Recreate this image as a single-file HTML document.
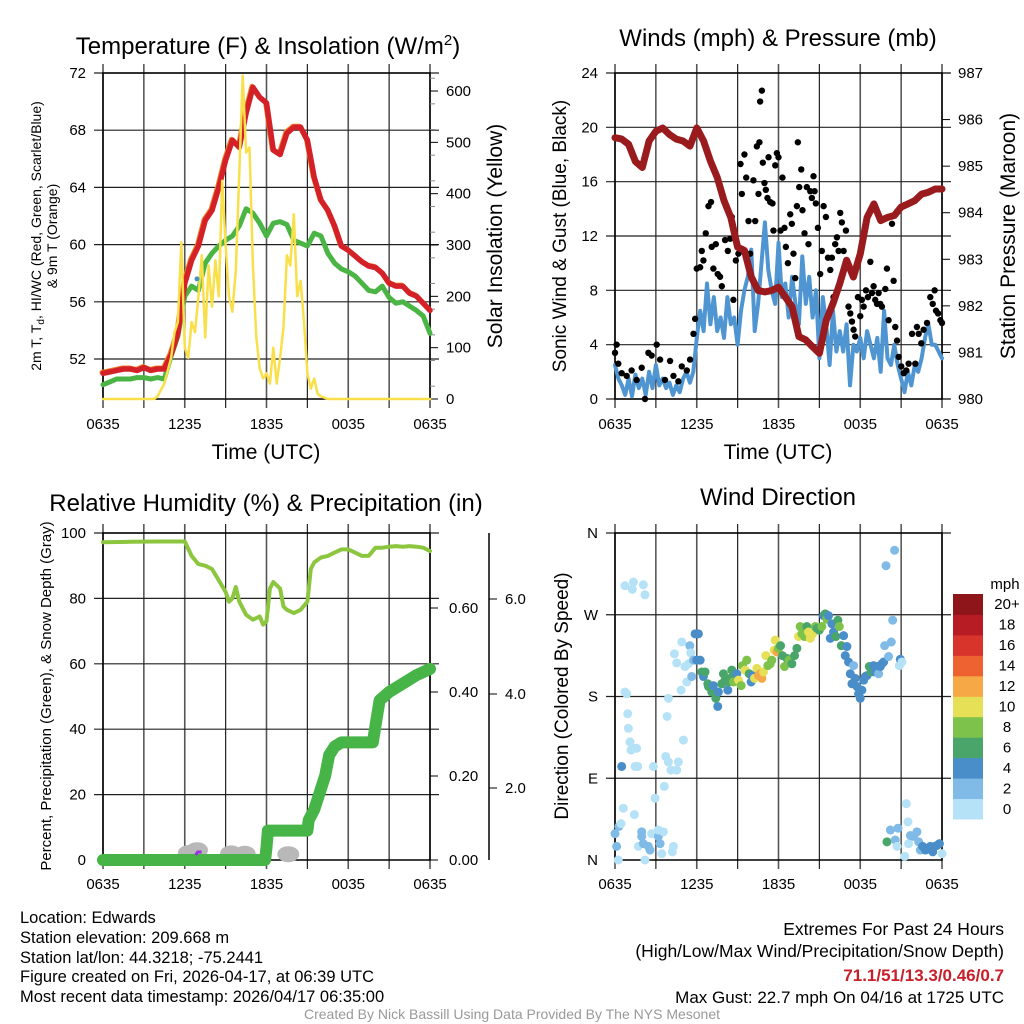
<!DOCTYPE html>
<html><head><meta charset="utf-8"><style>
html,body{margin:0;padding:0;background:#fff}
svg{display:block;font-family:"Liberation Sans",sans-serif}
</style></head><body>
<svg id="chart" width="1024" height="1024" viewBox="0 0 1024 1024" xmlns="http://www.w3.org/2000/svg">
<g>
<text x="268" y="54" font-size="24" text-anchor="middle">Temperature (F) &amp; Insolation (W/m<tspan dy="-9" font-size="15">2</tspan><tspan dy="9">)</tspan></text>
<text transform="translate(41,236) rotate(-90)" font-size="14" text-anchor="middle">2m T, T<tspan dy="3" font-size="10">d</tspan><tspan dy="-3">, HI/WC (Red, Green, Scarlet/Blue)</tspan></text>
<text transform="translate(57,236) rotate(-90)" font-size="14" text-anchor="middle">&amp; 9m T (Orange)</text>
<text transform="translate(502,236) rotate(-90)" font-size="21" text-anchor="middle">Solar Insolation (Yellow)</text>
<text x="266" y="459" font-size="21" text-anchor="middle">Time (UTC)</text>
</g>
<g>
<text x="778" y="46" font-size="24" text-anchor="middle">Winds (mph) &amp; Pressure (mb)</text>
<text transform="translate(566,236) rotate(-90)" font-size="19" text-anchor="middle">Sonic Wind &amp; Gust (Blue, Black)</text>
<text transform="translate(1015,236) rotate(-90)" font-size="21" text-anchor="middle">Station Pressure (Maroon)</text>
<text x="778" y="459" font-size="21" text-anchor="middle">Time (UTC)</text>
</g>
<g>
<text x="266" y="511" font-size="24" text-anchor="middle">Relative Humidity (%) &amp; Precipitation (in)</text>
<text transform="translate(51,696) rotate(-90)" font-size="15" text-anchor="middle">Percent, Precipitation (Green), &amp; Snow Depth (Gray)</text>
</g>
<g>
<text x="778" y="505" font-size="24" text-anchor="middle">Wind Direction</text>
<text transform="translate(568,696) rotate(-90)" font-size="19" text-anchor="middle">Direction (Colored By Speed)</text>
<text x="1005" y="589" font-size="15" text-anchor="middle">mph</text>
</g>
<g font-size="16.5">
<text x="20" y="923">Location: Edwards</text>
<text x="20" y="943">Station elevation: 209.668 m</text>
<text x="20" y="963">Station lat/lon: 44.3218; -75.2441</text>
<text x="20" y="982">Figure created on Fri, 2026-04-17, at 06:39 UTC</text>
<text x="20" y="1002">Most recent data timestamp: 2026/04/17 06:35:00</text>
<text x="1004" y="935" font-size="17.5" text-anchor="end">Extremes For Past 24 Hours</text>
<text x="1004" y="957" font-size="17.5" text-anchor="end">(High/Low/Max Wind/Precipitation/Snow Depth)</text>
<text x="1004" y="981" font-size="17" text-anchor="end" fill="#c8202a" font-weight="bold">71.1/51/13.3/0.46/0.7</text>
<text x="1004" y="1003" font-size="17" text-anchor="end">Max Gust: 22.7 mph On 04/16 at 1725 UTC</text>
<text x="512" y="1019" font-size="14" fill="#999" text-anchor="middle">Created By Nick Bassill Using Data Provided By The NYS Mesonet</text>
</g>
</svg>
<script>
// ---- data ----
const timeTicks = ["0635","1235","1835","0035","0635"];
const tempT = [0,0.5,1,1.5,2,2.5,3,3.5,4,4.5,5,5.5,6,6.5,7,7.5,8,8.5,9,9.5,10,10.5,11,11.5,12,12.5,13,13.5,14,14.5,15,15.5,16,16.5,17,17.5,18,18.5,19,19.5,20,20.5,21,21.5,22,22.5,23,23.5,24];
const tempV = [51.0,51.1,51.2,51.3,51.3,51.2,51.4,51.2,51.3,51.3,52.3,53.8,57.3,58.9,59.9,61.7,62.4,64.0,65.9,67.3,66.8,69.2,71.0,70.3,69.9,66.6,66.3,67.8,68.2,68.2,67.3,64.7,63.1,62.4,61.3,59.9,59.6,59.2,58.8,58.5,58.4,58.0,57.3,57.1,57.1,56.6,56.4,55.9,55.4];
const dewV = [50.2,50.4,50.6,50.6,50.6,50.7,50.7,50.6,50.7,50.6,52.2,53.6,56.4,57.1,56.8,58.7,59.4,59.9,60.3,60.6,61.3,62.5,62.2,61.5,60.6,61.5,61.6,61.4,60.3,60.1,59.9,60.8,60.6,59.4,58.7,58.3,58.1,57.8,57.3,56.8,56.7,57.1,56.3,55.9,56.0,55.7,55.4,55.0,53.8];
const solarT = [0,3.75,4,4.5,5,5.25,5.5,5.75,6,6.25,6.5,6.75,7,7.25,7.5,7.75,8,8.25,8.5,8.75,9,9.25,9.5,9.75,10,10.25,10.5,10.75,11,11.25,11.5,11.75,12,12.25,12.5,12.75,13,13.25,13.5,13.75,14,14.25,14.5,14.75,15,15.25,15.5,15.75,16,16.5,24];
const solarV = [0,0,5,30,80,130,150,305,100,80,150,130,200,280,120,260,180,270,200,425,300,200,170,250,440,630,480,490,260,120,60,40,50,30,100,30,80,140,280,260,360,200,230,150,50,20,40,10,5,0,0];
const hiwcT = [6.9];
const hiwcV = [57.6];
const windT0 = 0, windDt = 0.25;
const windV = [2.5,1.5,1.0,0.3,1.5,0.2,1.8,0.8,1.5,0.3,2.0,0.8,2.5,1.0,1.5,0.8,1.2,0.3,1.0,0.5,1.5,2.0,1.2,2.0,4.5,
6.5,5.0,8.5,5.5,7.5,5.0,6.0,4.5,7.5,5.5,6.0,4.0,6.5,8.0,9.0,11.0,5.0,7.0,10.0,13.0,9.5,8.0,7.0,11.5,7.5,8.5,6.0,9.0,7.0,5.5,10.5,7.0,9.0,6.0,8.0,3.0,7.5,5.5,2.5,6.5,3.5,5.0,3.5,5.5,1.0,4.0,3.5,4.5,3.0,5.0,4.0,3.0,4.5,2.0,6.5,3.0,2.5,4.0,2.5,1.5,0.5,2.0,1.0,2.5,2.0,3.0,4.5,5.5,4.0,4.0,3.5,3.0];
const gustT = [0,0.12,0.24,0.49,0.86,1.22,1.59,1.96,2.2,2.45,2.69,3.06,3.31,3.67,4.04,4.29,4.65,4.9,5.27,5.51,5.76,5.88,6.0,6.25,6.37,6.49,6.66,6.86,7.05,7.1,7.22,7.4,7.54,7.71,7.84,8.08,8.28,8.45,8.57,8.69,8.87,9.06,9.21,9.31,9.5,9.63,9.8,9.92,10.16,10.29,10.41,10.53,10.6,10.65,10.78,10.85,10.97,11.07,11.19,11.27,11.39,11.56,11.63,11.76,11.88,12.0,12.15,12.29,12.44,12.54,12.69,12.86,12.98,13.1,13.23,13.35,13.42,13.52,13.67,13.76,13.91,14.08,14.2,14.33,14.45,14.57,14.65,14.74,14.89,15.06,15.18,15.31,15.48,15.63,15.8,15.92,16.04,16.16,16.29,16.41,16.53,16.65,16.78,16.95,17.14,17.27,17.39,17.51,17.63,17.83,18.0,18.12,18.25,18.42,18.56,18.74,18.86,18.98,19.1,19.23,19.35,19.47,19.59,19.84,19.96,20.08,20.33,20.45,20.57,20.7,20.82,21.01,21.19,21.38,21.55,21.8,22.04,22.16,22.29,22.48,22.65,22.9,23.14,23.32,23.46,23.56,23.71,23.88,24.0];
const gustV = [3.4,4.0,2.6,1.9,1.7,2.1,1.4,2.3,0,3.4,3.2,4.0,2.9,1.4,2.8,1.7,1.3,2.4,2.1,2.9,4.8,5.9,9.6,9.7,10.9,10.2,12.2,14.2,14.5,11.2,9.6,11.4,9.2,9.0,8.3,11.7,10.9,11.8,13.4,7.3,10.2,10.7,17.3,15.1,18.0,16.3,13.1,10.7,16.1,13.1,18.6,15.1,18.9,21.9,22.7,17.4,15.9,15.4,14.8,17.8,14.5,14.4,12.4,17.2,18.1,17.8,12.4,16.3,12.6,11.2,10.0,13.6,12.9,10.7,8.9,14.2,18.9,15.6,16.9,13.9,12.2,15.6,11.4,15.3,14.8,16.4,15.3,14.4,12.6,9.2,10.9,14.2,13.4,10.4,9.5,10.4,7.5,11.4,11.9,10.9,13.7,13.0,10.9,12.4,6.8,6.3,5.7,5.1,4.6,7.5,6.1,7.3,6.8,8.0,7.5,10.1,7.8,8.3,7.3,7.0,7.8,7.0,6.8,8.1,9.6,5.8,12.9,8.7,5.3,4.3,3.1,2.4,1.9,2.1,2.6,4.8,2.6,5.3,4.8,4.1,5.1,5.6,7.5,7.0,8.0,6.5,6.3,5.8,5.6];
const presT = tempT;
const presV = [985.61,985.58,985.47,985.1,984.97,985.54,985.75,985.82,985.68,985.58,985.54,985.43,985.82,985.54,985.11,984.76,984.26,983.9,983.26,983.19,982.62,982.33,982.3,982.33,982.4,982.19,981.98,981.34,981.27,981.12,980.98,981.69,982.05,982.48,982.98,982.62,983.12,983.9,984.19,983.83,983.9,983.94,984.12,984.19,984.26,984.4,984.44,984.51,984.51];
const rhT = [0,2,4,6,6.5,7,7.5,8,8.5,9,9.25,9.5,9.75,10,10.5,11,11.5,11.75,12,12.25,12.5,13,13.25,13.5,14,14.5,15,15.25,15.5,16,16.5,17,17.5,18,18.5,19,19.5,20,20.5,21,21.5,22,22.5,23,23.5,24];
const rhV = [97.2,97.3,97.4,97.4,93,90.5,90,89,85.5,82,79,80,83.5,79,75,73.5,74.5,72,73,83,85,83,77.5,76.5,75.5,76.5,79,89,91,92.5,93,94,95,95,94,93,93,95.5,95.5,95.8,96,95.8,96,95.8,95.5,94.5];
const precipT = [0,11.9,12.0,12.1,15.0,15.1,15.5,16.0,16.3,16.6,17.0,17.5,19.8,20.0,20.3,21.0,22.0,23.0,24.0];
const precipV = [0,0,0.03,0.07,0.07,0.095,0.12,0.17,0.2,0.25,0.27,0.28,0.28,0.32,0.38,0.40,0.42,0.44,0.455];
const snowT = [6.3,6.9,9.4,10.4,13.6];
const snowV = [0.5,1.2,0.4,0.3,0.2];
const dirT = [0,0.12,0.24,0.29,0.44,0.61,0.49,0.73,0.86,0.93,0.98,1.1,1.18,1.35,1.59,1.47,1.67,0.73,1.27,1.35,2.08,2.2,1.42,1.71,1.96,1.96,2.08,2.2,2.45,2.57,2.69,2.82,2.94,3.18,3.18,3.31,3.43,3.55,3.62,3.72,3.82,3.92,3.92,4.11,4.21,4.29,4.36,4.53,4.65,4.53,4.85,4.9,5.02,5.14,5.27,5.39,5.49,5.56,5.63,5.76,5.88,6.0,6.12,6.25,6.37,6.49,6.61,6.81,6.86,6.98,7.1,7.22,7.4,7.54,7.59,7.84,7.96,8.08,8.28,8.33,8.45,8.57,8.69,8.82,8.94,9.06,9.26,9.36,9.55,9.67,9.85,9.99,10.09,10.24,10.41,10.53,10.65,10.78,10.9,11.07,11.22,11.39,11.51,11.68,11.76,11.88,12.0,12.15,12.29,12.44,12.61,12.78,12.98,13.18,13.35,13.47,13.59,13.72,13.91,14.08,14.2,14.33,14.5,14.7,14.82,14.99,15.18,15.31,15.43,15.55,15.67,15.8,15.92,16.04,16.21,16.36,16.46,16.61,16.78,16.9,17.02,17.14,17.27,17.39,17.51,17.63,17.76,17.88,18.0,18.12,18.25,18.37,18.49,18.66,18.81,18.98,19.1,19.23,19.35,19.47,19.59,19.72,19.89,19.79,20.08,20.28,20.38,20.52,20.87,20.94,21.06,19.96,20.21,20.57,20.7,20.77,21.26,21.38,21.5,21.55,21.68,21.92,22.16,22.29,22.41,22.58,22.78,22.97,23.14,23.32,23.46,23.63,23.81,24.0];
const dirV = [29,15,0,37,40,57,103,185,183,161,145,130,121,123,123,103,103,302,298,306,303,292,50,15,31,26,18,0,15,11,29,103,68,26,33,18,7,31,81,114,158,178,108,99,9,15,227,217,108,99,187,240,132,213,196,216,236,228,202,220,249,220,249,220,207,202,207,194,191,192,185,192,178,169,185,194,205,198,187,196,200,209,196,205,205,198,192,214,209,220,205,196,203,200,211,203,205,200,207,225,214,216,220,231,242,229,233,236,225,213,222,220,216,225,233,246,257,249,246,257,251,244,249,257,255,253,257,269,271,265,269,244,260,251,246,264,257,236,247,225,235,218,205,194,214,200,191,183,178,187,198,202,203,213,207,214,207,213,205,213,216,218,324,236,224,240,264,341,214,221,218,20,33,22,15,35,4,62,42,18,27,26,31,20,11,15,11,13,15,9,15,16,18,7];
const dirS = [3,3,1,3,1,1,4,1,1,1,1,1,1,1,1,1,1,1,1,1,1,1,1,1,3,3,3,1,3,3,1,1,1,3,1,3,1,1,1,1,1,1,1,1,1,1,1,1,1,1,1,1,1,1,1,1,3,1,3,3,4,4,4,4,6,4,6,7,7,6,6,4,6,4,4,7,6,6,4,6,6,6,8,6,5,11,8,8,11,8,6,4,4,10,11,13,13,12,10,10,8,8,8,10,10,13,8,6,6,8,6,8,6,6,6,10,8,8,8,7,10,10,10,8,6,7,8,4,7,8,4,4,4,4,6,6,8,6,5,4,4,4,4,4,3,4,4,4,4,4,4,4,4,6,6,4,4,4,3,4,4,4,3,3,3,3,3,3,1,4,1,6,3,3,1,3,1,1,1,1,3,3,3,3,3,4,4,4,4,4,4,4,4,1];
const speedBinLabels = ["0","2","4","6","8","10","12","14","16","18","20+"];
const speedBinColors = ["#b5e2f7","#7fbbe6","#4a8ec9","#4aa56b","#7dc24b","#e6e057","#f6a847","#ed6230","#d9342c","#b71c25","#8e1519"];
const rhLeftTicks = [0,20,40,60,80,100];
const precipTicks = ["0.00","0.20","0.40","0.60"];
const snowTicks = ["2.0","4.0","6.0"];
const dirTicks = ["N","E","S","W","N"];

// ---- helpers ----
const NS = "http://www.w3.org/2000/svg";
const svg = document.getElementById("chart");
function mk(parent, tag, attrs, text){
  const e = document.createElementNS(NS, tag);
  for (const k in attrs) e.setAttribute(k, attrs[k]);
  if (text !== undefined) e.textContent = text;
  parent.appendChild(e);
  return e;
}
function grp(){ return mk(svg,"g",{}); }
const L1 = 103, R1 = 430, L2 = 615, R2 = 942;
function xs(x0){ return h => x0 + h*(327/24); }
const xA = xs(L1), xB = xs(L2);
const yTemp = v => 359 - (v-52)*14.3;
const ySolar = v => 399 - v*0.5133;
const yWind = v => 399 - v*(326/24);
const yPres = v => 399 - (v-980)*(326/7);
const yRH = v => 860 - v*3.27;
const yPrecip = v => 860 - v*420;
const yDir = v => 860 - v*(327/360);

function frame(x0, x1, y0, y1, hLines, name){
  const g = grp();
  
  
  for (let i=0;i<=8;i++){
    const x = x0 + i*(x1-x0)/8;
    const l = mk(g,"line",{x1:x,x2:x,y1:y0-9,y2:y1+9,stroke:i%2?"#222":"#555","stroke-width":i%2?1.2:1.6});
    
    
  }
  hLines.forEach(y=>{
    const l = mk(g,"line",{x1:x0-9,x2:x1+9,y1:y,y2:y,stroke:"#222","stroke-width":1.2});
    
    
  });
  const b = mk(g,"rect",{x:x0,y:y0,width:x1-x0,height:y1-y0,fill:"none",stroke:"#000","stroke-width":1.5});
  
  
  return g;
}
function xLabels(x0, x1, y, name){
  const g = grp();
  
  
  timeTicks.forEach((t,i)=>{
    const e = mk(g,"text",{x:x0+i*(x1-x0)/4,y:y,"font-size":15,"text-anchor":"middle"},t);
    
    
  });
}
function yLabel(g, x, y, t, anchor){
  const e = mk(g,"text",{x:x,y:y+5,"font-size":15,"text-anchor":anchor},t);
  
  
}
function path(g, T, V, fx, fy, attrs, name){
  let d = "";
  T.forEach((t,i)=>{ d += (i?"L":"M") + fx(t).toFixed(1) + "," + fy(V[i]).toFixed(1); });
  attrs.d = d; attrs.fill = "none"; attrs["stroke-linejoin"]="round"; attrs["stroke-linecap"]="round";
  const p = mk(g,"path",attrs);
  
  
  return p;
}

// ---- Panel 1 ----
{
  const tv=[52,56,60,64,68,72];
  const g = frame(L1,R1,73,399, tv.map(yTemp), "temperature-plot");
  tv.forEach(v=>yLabel(g,86,yTemp(v),String(v),"end"));
  for (let v=0; v<=600; v+=100){
    yLabel(g,446,ySolar(v),String(v),"start");
    const t = mk(g,"line",{x1:R1,x2:R1+8,y1:ySolar(v),y2:ySolar(v),stroke:"#000"});
    
    
  }
  for (let v=25; v<=625; v+=50){
    const t = mk(g,"line",{x1:R1,x2:R1+5,y1:ySolar(v),y2:ySolar(v),stroke:"#888"});
    
    
  }
  xLabels(L1,R1,429,"temperature-x-ticks");
  const s = grp();
  path(s, tempT, tempV, h=>xA(h)-1, v=>yTemp(v)-1, {stroke:"#f0872e","stroke-width":5}, "9m-temperature-line");
  path(s, tempT, dewV, xA, yTemp, {stroke:"#4ab544","stroke-width":5}, "dewpoint-line");
  path(s, tempT, tempV, xA, yTemp, {stroke:"#d42027","stroke-width":5.5}, "2m-temperature-line");
  path(s, solarT, solarV, xA, ySolar, {stroke:"#f9e04b","stroke-width":2.5}, "solar-insolation-line");
  hiwcT.forEach((t,i)=>{
    const c = mk(s,"circle",{cx:xA(t),cy:yTemp(hiwcV[i]),r:2.5,fill:"#4a90c8"});
    
    
  });
}

// ---- Panel 2 ----
{
  const wv=[0,4,8,12,16,20,24];
  const g = frame(L2,R2,73,399, wv.map(yWind), "winds-plot");
  wv.forEach(v=>yLabel(g,598,yWind(v),String(v),"end"));
  for (let v=980; v<=987; v++){
    yLabel(g,958,yPres(v),String(v),"start");
    const t = mk(g,"line",{x1:R2,x2:R2+8,y1:yPres(v),y2:yPres(v),stroke:"#000"});
    
    
  }
  xLabels(L2,R2,429,"winds-x-ticks");
  const s = grp();
  const wT = windV.map((v,i)=>windT0+i*windDt);
  path(s, wT, windV, xB, yWind, {stroke:"#4f95d2","stroke-width":4}, "sonic-wind-line");
  gustT.forEach((t,i)=>{
    const c = mk(s,"circle",{cx:xB(t),cy:yWind(gustV[i]),r:3.2,fill:"#000"});
    
    
  });
  path(s, presT, presV, xB, yPres, {stroke:"#9a1b1e","stroke-width":7}, "pressure-line");
}

// ---- Panel 3 ----
{
  const g = frame(L1,R1,533,860, [20,40,60,80,100].map(yRH), "humidity-plot");
  rhLeftTicks.forEach(v=>yLabel(g,86,yRH(v),String(v),"end"));
  precipTicks.forEach(t=>{
    const v = parseFloat(t);
    yLabel(g,449,yPrecip(v),t,"start");
    const k = mk(g,"line",{x1:R1,x2:R1+8,y1:yPrecip(v),y2:yPrecip(v),stroke:"#000"});
    
    
  });
  const ax = mk(g,"line",{x1:489,x2:489,y1:533,y2:860,stroke:"#000","stroke-width":1.5});
  
  
  const sy = [788,694,599];
  snowTicks.forEach((t,i)=>{
    yLabel(g,505,sy[i],t,"start");
    const k = mk(g,"line",{x1:489,x2:497,y1:sy[i],y2:sy[i],stroke:"#000"});
    
    
  });
  xLabels(L1,R1,889,"humidity-x-ticks");
  const s = grp();
  snowT.forEach((t,i)=>{
    const c = mk(s,"ellipse",{cx:xA(t),cy:855 - snowV[i]*4,rx:11,ry:8,fill:"#b8b8b8"});
    
    
  });
  path(s, rhT, rhV, xA, yRH, {stroke:"#8cc63f","stroke-width":4}, "relative-humidity-line");
  path(s, precipT, precipV, xA, yPrecip, {stroke:"#46b446","stroke-width":12}, "precipitation-line");
  const pm = mk(s,"path",{d:`M${xA(6.8)},855 l2,-3 l4,0`,stroke:"#9b30e0","stroke-width":3,fill:"none"});
  
  
}

// ---- Panel 4 ----
{
  const g = frame(L2,R2,533,860, [90,180,270,360].map(yDir), "direction-plot");
  dirTicks.forEach((t,i)=>yLabel(g,598,yDir(i*90),t,"end"));
  xLabels(L2,R2,889,"direction-x-ticks");
  const s = grp();
  dirT.forEach((t,i)=>{
    const bin = Math.min(10, Math.floor(dirS[i]/2));
    const c = mk(s,"circle",{cx:xB(t),cy:yDir(dirV[i]),r:4.5,fill:speedBinColors[bin]});
    
    
  });
  const cb = grp();
  
  
  const top = 594, bh = 225/11;
  speedBinColors.forEach((col,i)=>{
    const y = top + (10-i)*bh;
    const r = mk(cb,"rect",{x:953,y:y,width:30,height:bh+0.5,fill:col});
    
    
    const tx = mk(cb,"text",{x:1007,y:y+bh/2+5,"font-size":15,"text-anchor":"middle"},speedBinLabels[i]);
    
    
  });
}
</script>
</body></html>
